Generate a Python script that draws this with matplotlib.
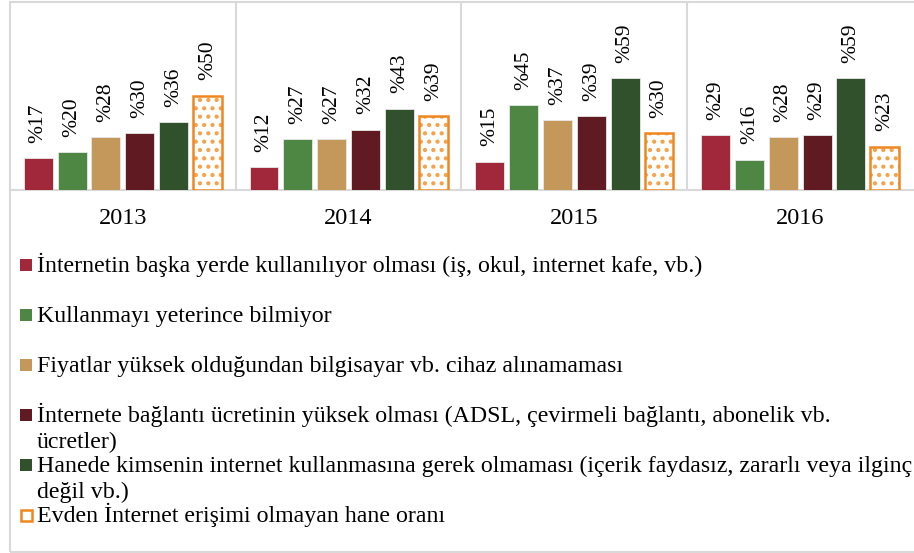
import matplotlib.pyplot as plt
from matplotlib.patches import Rectangle
import numpy as np

plt.rcParams['font.family'] = ['Liberation Serif', 'DejaVu Serif']
plt.rcParams['hatch.linewidth'] = 1.8

# data
years = ['2013', '2014', '2015', '2016']
labels = [
    'İnternetin başka yerde kullanılıyor olması (iş, okul, internet kafe, vb.)',
    'Kullanmayı yeterince bilmiyor',
    'Fiyatlar yüksek olduğundan bilgisayar vb. cihaz alınamaması',
    'İnternete bağlantı ücretinin yüksek olması (ADSL, çevirmeli bağlantı, abonelik vb.\nücretler)',
    'Hanede kimsenin internet kullanmasına gerek olmaması (içerik faydasız, zararlı veya ilginç\ndeğil vb.)',
    'Evden İnternet erişimi olmayan hane oranı',
]
baska_yerde = [17, 12, 15, 29]
bilmiyor = [20, 27, 45, 16]
fiyat = [28, 27, 37, 28]
baglanti = [30, 32, 39, 29]
gerek_yok = [36, 43, 59, 59]
erisim_yok = [50, 39, 30, 23]
series = [baska_yerde, bilmiyor, fiyat, baglanti, gerek_yok, erisim_yok]

colors = ['#A0283A', '#4E8643', '#C4975B', '#5F1A22', '#30512B', 'white']
orange = '#F0861E'
dot_orange = '#F4A24C'

W, H = 914, 553
fig = plt.figure(figsize=(W / 100, H / 100), dpi=100)

# outer light grey frame
fig.add_artist(Rectangle((10 / W, 1 / H), 1.0, 550 / H, transform=fig.transFigure,
                         fill=False, edgecolor='#D9D9D9', linewidth=1.5))

ax = fig.add_axes([10 / W, 1 - 190 / H, 903 / W, 189 / H])
x = np.arange(len(years))
step = 0.15
width = 0.128
for i, vals in enumerate(series):
    pos = x + (i - 2.5) * step
    if i == 5:
        # dotted fill in a lighter orange, then the solid orange outline
        ax.bar(pos, vals, width, facecolor='white', edgecolor=dot_orange,
               linewidth=0, hatch='..', zorder=3)
        bars = ax.bar(pos, vals, width, fill=False, edgecolor=orange,
                      linewidth=1.8, zorder=4)
    else:
        bars = ax.bar(pos, vals, width, color=colors[i], edgecolor='#E8E8E8',
                      linewidth=0.6, zorder=3)
    for b, v in zip(bars, vals):
        ax.annotate(f'%{v}', (b.get_x() + b.get_width() / 2, v),
                    xytext=(0, 11), textcoords='offset points',
                    rotation=90, ha='center', va='bottom', fontsize=15.5)

for sep in [0.5, 1.5, 2.5]:
    ax.axvline(sep, color='#D9D9D9', linewidth=1.5)

ax.set_xlim(-0.5, 3.5)
ax.set_ylim(0, 100)
ax.set_yticks([])
ax.set_xticks(x)
ax.set_xticklabels(years, fontsize=17.5)
ax.tick_params(axis='x', length=0, pad=13)
for s in ['top', 'right', 'left']:
    ax.spines[s].set_visible(False)
ax.spines['bottom'].set_color('#D9D9D9')
ax.spines['bottom'].set_linewidth(1.5)

# legend, one entry every 50 px, wrapped lines 26 px apart
for i, lab in enumerate(labels):
    yc = 265 + 50 * i
    if i == 5:
        fig.add_artist(Rectangle((21 / W, 1 - (yc + 6) / H), 11 / W, 11 / H,
                                 transform=fig.transFigure, facecolor='white',
                                 edgecolor=orange, linewidth=1.8))
    else:
        fig.add_artist(Rectangle((20 / W, 1 - (yc + 6) / H), 12 / W, 12 / H,
                                 transform=fig.transFigure, facecolor=colors[i],
                                 edgecolor='none'))
    for k, line in enumerate(lab.split('\n')):
        fig.text(37 / W, 1 - (yc + 7 + 26 * k) / H, line, fontsize=17.2,
                 va='baseline', ha='left')

fig.savefig('out.png', dpi=100)
